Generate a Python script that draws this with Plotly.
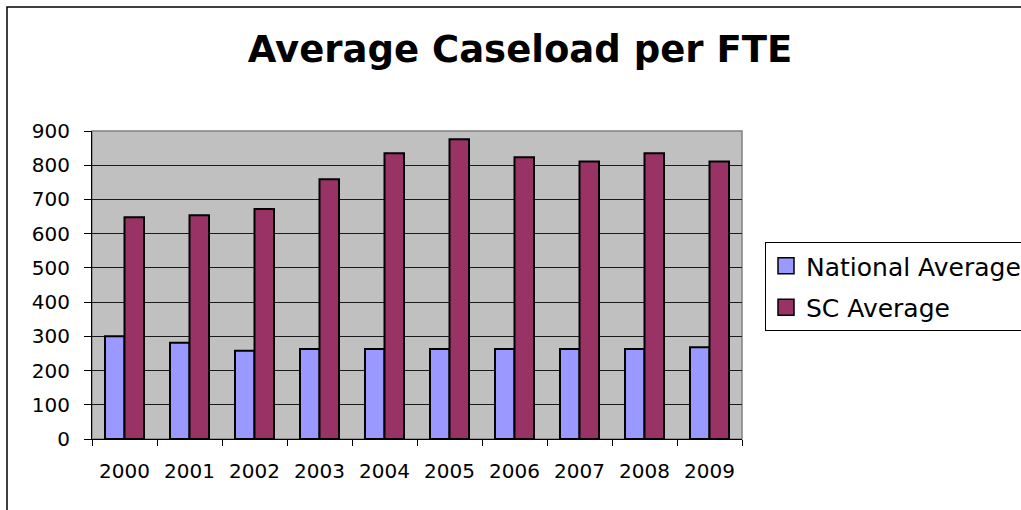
import plotly.graph_objects as go

years = ["2000", "2001", "2002", "2003", "2004", "2005", "2006", "2007", "2008", "2009"]
national_average = [300, 281, 258, 263, 263, 263, 263, 263, 263, 268]
sc_average = [648, 654, 672, 759, 835, 876, 823, 811, 835, 811]
series_names = ["National Average", "SC Average"]
series_colors = ["#9999FF", "#993366"]
y_ticks = [0, 100, 200, 300, 400, 500, 600, 700, 800, 900]

W, H = 1021, 510
ML, MR, MT, MB = 92, 279, 131, 71
PW = W - ML - MR
PH = H - MT - MB

fig = go.Figure()
for name, vals, col in zip(series_names, [national_average, sc_average], series_colors):
    fig.add_trace(go.Bar(
        x=years, y=vals, name=name, showlegend=False,
        marker=dict(color=col, line=dict(color="black", width=2)),
        hoverinfo="x+y",
    ))
for i, (name, col) in enumerate(zip(series_names, series_colors)):
    fig.add_trace(go.Scatter(
        x=[None], y=[None], mode="markers", name=name, legendgroup=f"g{i}",
        marker=dict(symbol="square", size=16, color=col, line=dict(color="black", width=1.5)),
    ))

font_family = "DejaVu Sans"
fig.update_layout(
    width=W, height=H,
    margin=dict(l=ML, r=MR, t=MT, b=MB, autoexpand=False),
    paper_bgcolor="white",
    plot_bgcolor="#C0C0C0",
    barmode="group",
    bargap=0.4,
    bargroupgap=0,
    font=dict(family=font_family, color="black", size=20),
    title=dict(
        text="<b>Average Caseload per FTE</b>",
        x=520 / W, xanchor="center", xref="container",
        y=1 - 49 / H, yanchor="middle", yref="container",
        font=dict(family=font_family, size=37, color="black"),
    ),
    legend=dict(
        x=(765 - ML) / PW, xanchor="left",
        y=(H - MB - 242) / PH, yanchor="top",
        bgcolor="white", bordercolor="black", borderwidth=1,
        font=dict(family=font_family, size=25, color="black"),
        traceorder="grouped", tracegroupgap=6,
    ),
    xaxis=dict(
        type="category",
        showline=True, linecolor="black", linewidth=1,
        ticks="outside", ticklen=6, tickcolor="black", tickwidth=1,
        tickson="boundaries",
        showgrid=False,
        tickfont=dict(size=20, family=font_family),
        ticklabelstandoff=14,
    ),
    yaxis=dict(
        range=[0, 900],
        tickvals=y_ticks,
        showline=True, linecolor="black", linewidth=1,
        ticks="outside", ticklen=7, tickcolor="black", tickwidth=1,
        showgrid=True, gridcolor="#1a1a1a", gridwidth=1,
        zeroline=False,
        tickfont=dict(size=20, family=font_family),
        ticklabelstandoff=10,
    ),
    shapes=[
        dict(type="rect", xref="paper", yref="paper", x0=0, x1=1, y0=0, y1=1,
             line=dict(color="#808080", width=1.5), layer="below"),
        dict(type="rect", xref="paper", yref="paper",
             x0=(7 - ML) / PW, x1=(W + 20 - ML) / PW,
             y0=-(40 + MB) / PH, y1=(H - MB - 7) / PH,
             line=dict(color="black", width=1.5), layer="above"),
    ],
)

fig.write_html("out.html", config={"displayModeBar": False},
               post_script="document.body.style.margin='0';")
